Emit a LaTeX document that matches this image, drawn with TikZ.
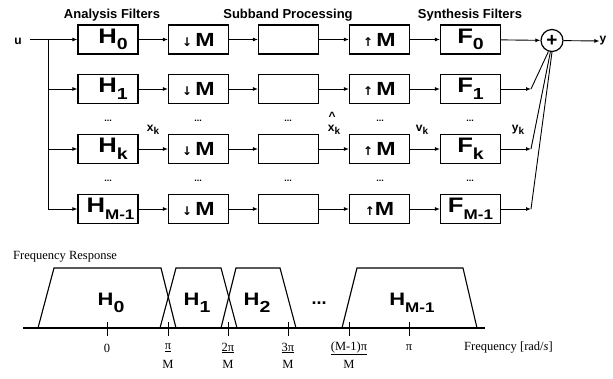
\documentclass[tikz,border=0pt]{standalone}
\usepackage{fontspec}
\usepackage{graphicx}
\setmainfont{Liberation Serif}
\setsansfont{Liberation Sans}
\newfontfamily\arrowfont{DejaVu Sans}
\usetikzlibrary{arrows.meta}
\newcommand{\Hs}[2]{#1\raisebox{-6.5pt}{\fontsize{16}{16}\selectfont #2}}
\newcommand{\Hm}[2]{#1\raisebox{-6.5pt}{\fontsize{14}{14}\selectfont #2}}
\newcommand{\dn}{{\arrowfont\bfseries\fontsize{12}{12}\selectfont ↓}\,}
\newcommand{\up}{{\arrowfont\bfseries\fontsize{12}{12}\selectfont ↑}\,}
\newcommand{\sgn}[2]{#1\raisebox{-2.5pt}{\fontsize{10}{10}\selectfont #2}}
\newcommand{\wide}[1]{\scalebox{1.22}[1]{#1}}
\tikzset{
 blk/.style={draw, line width=1.2pt, minimum width=60pt, minimum height=29pt, inner sep=0pt},
 hl/.style={label={[font=\sffamily\bfseries\fontsize{21}{21}\selectfont, inner sep=0pt]center:#1}},
 ml/.style={label={[font=\sffamily\bfseries\fontsize{19}{19}\selectfont, inner sep=0pt]center:#1}},
 con/.style={line width=0.9pt},
 arr/.style={con, -{Latex[length=5pt,width=4pt]}},
 ttl/.style={font=\sffamily\bfseries\fontsize{13}{13}\selectfont, inner sep=0pt},
 dts/.style={font=\sffamily\bfseries\fontsize{9}{9}\selectfont, inner sep=0pt},
 sig/.style={font=\sffamily\bfseries\fontsize{12}{12}\selectfont, inner sep=0pt},
 ser/.style={font=\fontsize{12.5}{12.5}\selectfont, inner sep=0pt},
 bl/.style={font=\sffamily\bfseries\fontsize{18}{18}\selectfont, inner sep=0pt},
 resp/.style={line width=1.1pt},
}
\begin{document}
\begin{tikzpicture}[x=1pt,y=-1pt]
\useasboundingbox (0,0) rectangle (613,379);
% titles
\node[ttl] (t1) at (112,15) {Analysis Filters};
\node[ttl] (t2) at (288,15) {Subband Processing};
\node[ttl] (t3) at (470,15) {Synthesis Filters};
% rows
\foreach \r/\y/\h/\f/\u in {0/39.5/{\hspace*{10pt}\wide{\Hs{H}{0}}}/\wide{\Hs{F}{0}}/\up\wide{M},
                         1/89/{\hspace*{10pt}\wide{\Hs{H}{1}}}/\wide{\Hs{F}{1}}/\up\wide{M},
                         k/149/{\hspace*{10pt}\wide{\Hs{H}{k}}}/\wide{\Hs{F}{k}}/\up\wide{M},
                         m/209/{\hspace*{5pt}\wide{\Hm{H}{M-1}}}/\wide{\Hm{F}{M-1}}/{\arrowfont\bfseries\fontsize{12}{12}\selectfont ↑}\wide{M}}{
  \node[blk, hl={\h}] (h\r) at (108,\y) {};
  \node[blk, ml={\dn\wide{M}}] (d\r) at (198.5,\y) {};
  \node[blk] (p\r) at (288.5,\y) {};
  \node[blk, ml={\u}] (e\r) at (379.5,\y) {};
  \node[blk, hl={\f}] (f\r) at (470.5,\y) {};
  \coordinate (tr\r) at (48,\y);
  \draw[arr] (tr\r) -- (h\r);
  \draw[arr] (h\r) -- (d\r);
  \draw[arr] (d\r) -- (p\r);
  \draw[arr] (p\r) -- (e\r);
  \draw[arr] (e\r) -- (f\r);
}
% dots
\foreach \y in {121,181}{
  \foreach \x in {108,198,288,380,470}{
    \node[dts] at (\x,\y) {...};
  }
}
% input
\node[sig] (u) at (18,41) {u};
\coordinate (uin) at (30,39.5);
\draw[con] (uin) -- (tr0);
\draw[con] (tr0) -- (trm);
% sum
\node[draw, circle, line width=1.2pt, minimum size=22pt, inner sep=0pt,
      font=\sffamily\bfseries\fontsize{19}{19}\selectfont] (sum) at (552,40.5) {+};
\draw[arr] (f0) -- (sum);
\foreach \r/\y/\a in {1/89/252,k/149/262,m/209/270}{
  \coordinate (o\r) at (531,\y);
  \draw[arr] (f\r) -- (o\r);
  \draw[con] (o\r) -- (sum.\a);
}
\node[sig] (y) at (603,41) {y};
\draw[arr] (sum) -- (y.west);
% signal labels
\node[sig] (xk) at (153,130) {\sgn{x}{k}};
\node[sig] (xh) at (334,130) {\sgn{x}{k}};
\node[sig] (xhat) at (332,116) {\textasciicircum};
\node[sig] (vk) at (422,130) {\sgn{v}{k}};
\node[sig] (yk) at (518,130) {\sgn{y}{k}};
% frequency response
\node[ser, anchor=west] (fr) at (13,257) {Frequency Response};
\draw[resp] (38,328) -- (54,268) -- (161,268) -- (176,328);
\draw[resp] (160,328) -- (176,268) -- (221,268) -- (237,328);
\draw[resp] (221,328) -- (236,268) -- (280,268) -- (296,328);
\draw[resp] (342,328) -- (357,268) -- (463,268) -- (477,328);
\draw[resp] (23,328) -- (485,328);
\foreach \x in {107,168,228,288,349,409}{
  \draw[con] (\x,322) -- (\x,336);
}
\node[bl] (b0) at (111,303) {\wide{\Hs{H}{0}}};
\node[bl] (b1) at (197,303) {\wide{\Hs{H}{1}}};
\node[bl] (b2) at (257,303) {\wide{\Hs{H}{2}}};
\node[bl] (bd) at (319,303) {...};
\node[bl] (bm) at (412,303) {\wide{\Hm{H}{M-1}}};
\node[ser] (l0) at (107,348) {0};
\node[ser] (l1) at (168,348) {\underline{π}};
\node[ser] (l1m) at (168,364) {M};
\node[ser] (l2) at (228,348) {\underline{2π}};
\node[ser] (l2m) at (228,364) {M};
\node[ser] (l3) at (288,348) {\underline{3π}};
\node[ser] (l3m) at (288,364) {M};
\node[ser] (l4) at (349,348) {\underline{(M-1)π}};
\node[ser] (l4m) at (349,364) {M};
\node[ser] (l5) at (409,348) {π};
\node[ser, anchor=west] (fq) at (464,348) {Frequency [rad/\textit{s}]};
\end{tikzpicture}
\end{document}
